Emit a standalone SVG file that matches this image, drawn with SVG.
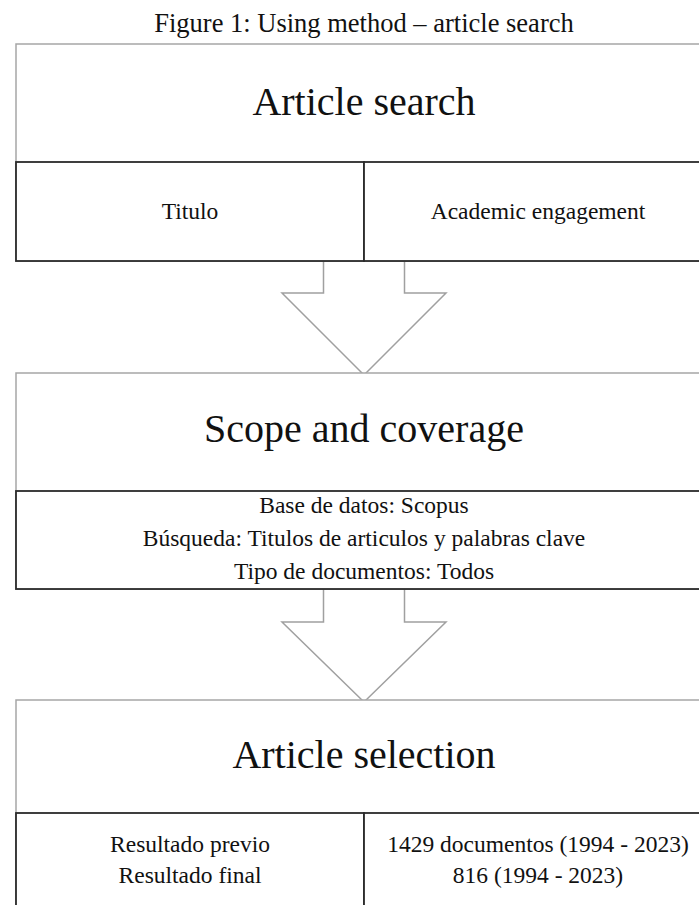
<svg xmlns="http://www.w3.org/2000/svg" width="699" height="905" viewBox="0 0 699 905">
<style>
  .outer { fill: #ffffff; stroke: #a6a6a6; stroke-width: 1.5; }
  .cell { fill: #ffffff; stroke: #2b2b2b; stroke-width: 1.8; }
  .arrow { fill: #ffffff; stroke: #a0a0a0; stroke-width: 1.5; stroke-linejoin: miter; }
  text { font-family: "Liberation Serif", "Times New Roman", serif; fill: #111111; text-anchor: middle; }
  .cap { font-size: 26.5px; }
  .head { font-size: 40px; }
  .body { font-size: 23.5px; }
</style>
<rect width="699" height="905" fill="#ffffff"/>
<g id="caption">
  <text class="cap" x="364" y="32">Figure 1: Using method – article search</text>
</g>
<g id="connectors">
  <path class="arrow" d="M323.5,261 L323.5,293 L282,293 L364,375 L446,293 L404.5,293 L404.5,261"/>
  <path class="arrow" d="M323.5,589 L323.5,622 L282,622 L364,702 L446,622 L404.5,622 L404.5,589"/>
</g>
<g id="article-search">
  <rect class="outer" x="16" y="44" width="696" height="217"/>
  <text class="head" x="364" y="115">Article search</text>
  <rect class="cell" x="16" y="162" width="348" height="99"/>
  <rect class="cell" x="364" y="162" width="348" height="99"/>
  <text class="body" x="190" y="219">Titulo</text>
  <text class="body" x="538" y="219">Academic engagement</text>
</g>
<g id="scope-coverage">
  <rect class="outer" x="16" y="373" width="696" height="216"/>
  <text class="head" x="364" y="442">Scope and coverage</text>
  <rect class="cell" x="16" y="491" width="696" height="98"/>
  <text class="body" x="364" y="513">Base de datos: Scopus</text>
  <text class="body" x="364" y="546">Búsqueda: Titulos de articulos y palabras clave</text>
  <text class="body" x="364" y="579">Tipo de documentos: Todos</text>
</g>
<g id="article-selection">
  <rect class="outer" x="16" y="700" width="696" height="230"/>
  <text class="head" x="364" y="768">Article selection</text>
  <rect class="cell" x="16" y="813" width="348" height="120"/>
  <rect class="cell" x="364" y="813" width="348" height="120"/>
  <text class="body" x="190" y="852">Resultado previo</text>
  <text class="body" x="190" y="883">Resultado final</text>
  <text class="body" x="538" y="852">1429 documentos (1994 - 2023)</text>
  <text class="body" x="538" y="883">816 (1994 - 2023)</text>
</g>
</svg>
